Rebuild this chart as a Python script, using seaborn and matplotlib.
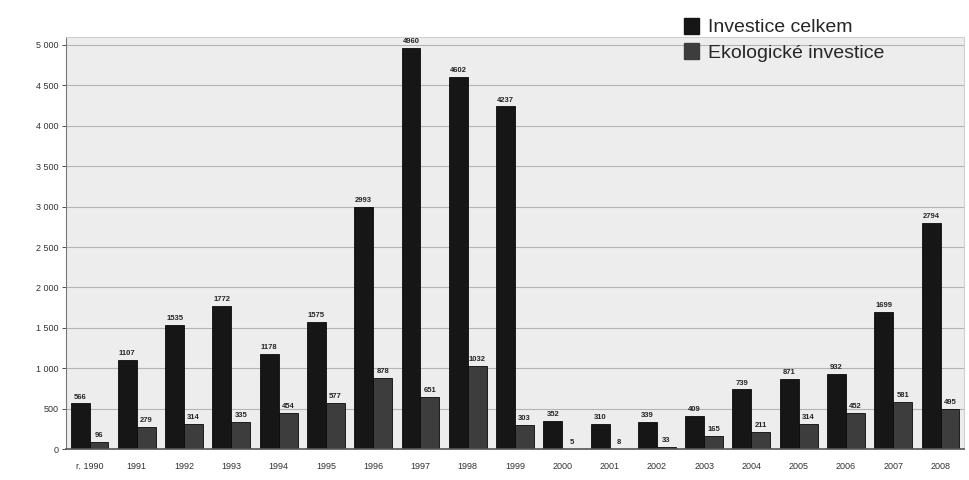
import pandas as pd
import seaborn as sns
import matplotlib.pyplot as plt
from matplotlib.ticker import FuncFormatter

years = ['r. 1990', '1991', '1992', '1993', '1994', '1995', '1996', '1997', '1998', '1999',
         '2000', '2001', '2002', '2003', '2004', '2005', '2006', '2007', '2008']
investice_celkem = [566, 1107, 1535, 1772, 1178, 1575, 2993, 4960, 4602, 4237,
                    352, 310, 339, 409, 739, 871, 932, 1699, 2794]
ekologicke = [96, 279, 314, 335, 454, 577, 878, 651, 1032, 303,
              5, 8, 33, 165, 211, 314, 452, 581, 495]

series_names = ['Investice celkem', 'Ekologické investice']

df = pd.DataFrame({
    'rok': years * 2,
    'hodnota': investice_celkem + ekologicke,
    'serie': [series_names[0]] * len(years) + [series_names[1]] * len(years),
})

sns.set_style('white')
plt.rcParams['font.family'] = ['Liberation Sans', 'DejaVu Sans']

fig = plt.figure(figsize=(9.69, 4.8), dpi=100)
ax = fig.add_axes([0.068, 0.064, 0.927, 0.858])
ax.set_facecolor('#ededed')

sns.barplot(data=df, x='rok', y='hodnota', hue='serie', order=years,
            hue_order=series_names, palette=['#161616', '#3d3d3d'],
            width=0.8, edgecolor='#0a0a0a', linewidth=0.6, ax=ax, legend=False)

for cont in ax.containers:
    ax.bar_label(cont, fontsize=5.5, fontweight='bold', padding=2, clip_on=False)

ax.set_ylim(0, 5090)
ax.set_xlim(-0.5, len(years) - 0.5)
ax.set_yticks(range(0, 5001, 500))
ax.yaxis.set_major_formatter(FuncFormatter(lambda v, p: f'{int(v):,}'.replace(',', ' ')))
ax.grid(axis='y', color='#b5b5b5', linewidth=0.8)
ax.set_axisbelow(True)
ax.set_xlabel('')
ax.set_ylabel('')
ax.tick_params(axis='both', labelsize=6.5, colors='#333333', length=3, width=0.6)
ax.tick_params(axis='y', left=True, pad=2)
ax.tick_params(axis='x', pad=6)

for side in ['top', 'right']:
    ax.spines[side].set_color('#cfcfcf')
ax.spines['left'].set_color('#777777')
ax.spines['bottom'].set_color('#555555')
ax.spines['bottom'].set_linewidth(1.2)

handles = [plt.Rectangle((0, 0), 1, 1, color='#161616'),
           plt.Rectangle((0, 0), 1, 1, color='#3d3d3d')]
fig.legend(handles, series_names, loc='upper left', bbox_to_anchor=(0.688, 1.0),
           frameon=False, fontsize=14, handlelength=0.75, handleheight=0.9,
           handletextpad=0.5, labelspacing=0.35)

fig.savefig('out.png', dpi=100)
